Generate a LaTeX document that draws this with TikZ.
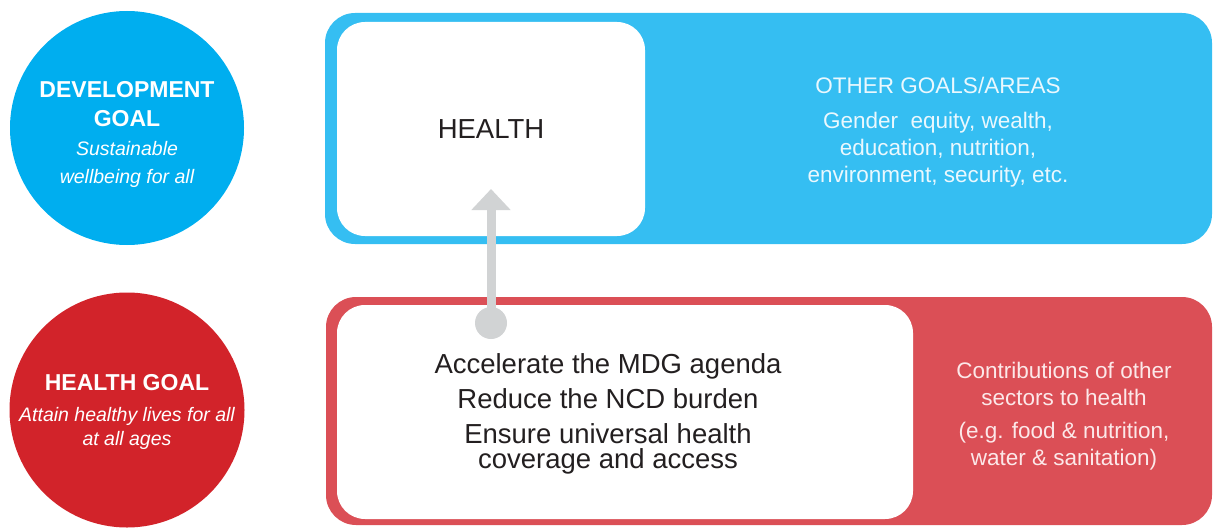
\documentclass[tikz,border=0pt]{standalone}
\usepackage{fontspec}
\setmainfont{Liberation Sans}
\usetikzlibrary{arrows.meta}
\definecolor{cblue}{HTML}{00AEEF}
\definecolor{bboxc}{HTML}{35BEF2}
\definecolor{cred}{HTML}{D2232A}
\definecolor{rboxc}{HTML}{DB4F56}
\definecolor{agray}{HTML}{D1D3D4}
\definecolor{ink}{HTML}{231F20}
\definecolor{btext}{HTML}{EAF8FE}
\definecolor{rtext}{HTML}{FCE8E9}
\begin{document}
\begin{tikzpicture}[x=1pt,y=-1pt,
  goalcircle/.style={circle,inner sep=0pt,minimum size=234pt},
  outerbox/.style={rounded corners=30pt,inner sep=0pt},
  innerbox/.style={fill=white,rounded corners=28pt,inner sep=0pt},
  circtitle/.style={text=white,font=\fontsize{23}{29}\selectfont\bfseries,align=center,inner sep=0pt},
  circsub/.style={text=white,font=\fontsize{19.5}{28}\selectfont\itshape,align=center,inner sep=0pt},
  maintext/.style={text=ink,font=\fontsize{27.5}{35}\selectfont,align=center,inner sep=0pt},
  sidetext/.style={font=\fontsize{22.5}{27}\selectfont,align=center,inner sep=0pt},
  linkarrow/.style={draw=agray,line width=9pt,-{Triangle[width=38pt,length=21pt]}}
]
\useasboundingbox (0,0) rectangle (1214,527);
% circles
\node[goalcircle,fill=cblue] (devc) at (127,128) {};
\node[goalcircle,fill=cred,minimum size=235pt] (hgc) at (127,410) {};
\node[circtitle,anchor=base] (devt) at (127,126) {DEVELOPMENT\\GOAL};
\node[circsub,anchor=base] (devs) at (127,183) {Sustainable\\wellbeing for all};
\node[circtitle,anchor=base] (hgt) at (127,390) {HEALTH GOAL};
\node[circsub,anchor=base,font=\fontsize{19.5}{24}\selectfont\itshape] (hgs) at (127,445) {Attain healthy lives for all\\at all ages};
% boxes
\node[outerbox,fill=bboxc,minimum width=887pt,minimum height=231pt] (bluebox) at (768.5,128.5) {};
\node[innerbox,minimum width=308pt,minimum height=214pt] (healthbox) at (491,129) {};
\node[outerbox,fill=rboxc,minimum width=886pt,minimum height=228pt] (redbox) at (769,411) {};
\node[innerbox,minimum width=576pt,minimum height=214pt] (hgoalbox) at (625,412) {};
% texts
\node[maintext,anchor=base] (health) at (491,138) {HEALTH};
\node[sidetext,text=btext,anchor=base] (othert) at (938,93) {OTHER GOALS/AREAS};
\node[sidetext,text=btext,anchor=base] (others) at (938,182) {Gender\ \ equity, wealth,\\education, nutrition,\\environment, security, etc.};
\node[maintext,anchor=base] (goals) at (608,468) {Accelerate the MDG agenda\\Reduce the NCD burden\\Ensure universal health\\[-10pt]coverage and access};
\node[sidetext,text=rtext,anchor=base] (contr) at (1064,465) {Contributions of other\\sectors to health\\[6pt](e.g. food \& nutrition,\\water \& sanitation)};
% arrow
\node[circle,fill=agray,inner sep=0pt,minimum size=32pt] (dot) at (491,323) {};
\coordinate (tip) at (491,189);
\draw[linkarrow] (dot.center) -- (tip);
\end{tikzpicture}
\end{document}
